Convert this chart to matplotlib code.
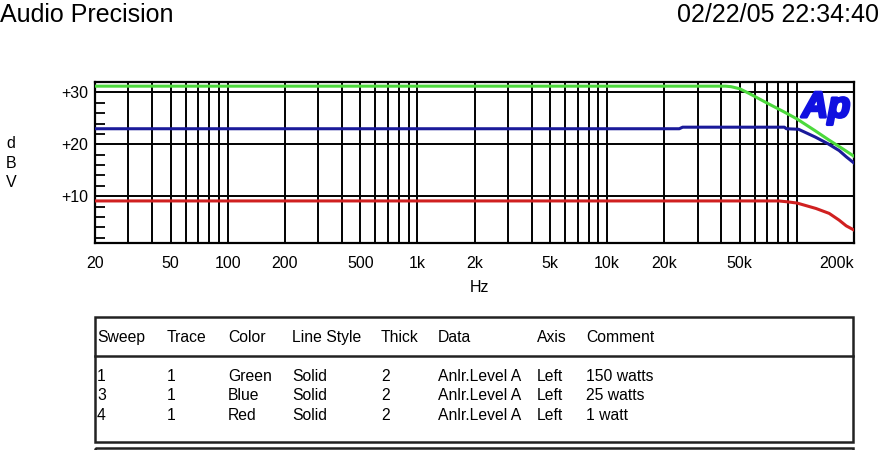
import matplotlib.pyplot as plt
import matplotlib.patheffects as pe
from matplotlib.ticker import FixedLocator, MultipleLocator, NullFormatter
from matplotlib.patches import Rectangle

plt.rcParams['font.family'] = ['Liberation Sans', 'DejaVu Sans']

# sweep data (Hz, dBV)
green_freq = [20, 42000, 45000, 50000, 56000, 63000, 70000, 84000, 100000, 125000, 148000, 175000, 200000]
green_level = [31.2, 31.2, 31.1, 30.7, 29.8, 28.8, 27.9, 26.4, 24.9, 22.6, 20.8, 19.1, 17.7]

blue_freq = [20, 24000, 25000, 86000, 88000, 102000, 125000, 146000, 167000, 182000, 200000]
blue_level = [23.0, 23.0, 23.3, 23.3, 23.0, 22.9, 21.4, 20.1, 18.8, 17.6, 16.4]

red_freq = [20, 80000, 88000, 100000, 126000, 148000, 167000, 182000, 200000]
red_level = [9.1, 9.1, 8.95, 8.7, 7.65, 6.7, 5.4, 4.3, 3.5]

xtick_vals = [20, 50, 100, 200, 500, 1000, 2000, 5000, 10000, 20000, 50000, 200000]
xtick_labels = ['20', '50', '100', '200', '500', '1k', '2k', '5k', '10k', '20k', '50k', '200k']
ytick_vals = [10, 20, 30]
ytick_labels = ['+10', '+20', '+30']

# legend table
tbl_header = ['Sweep', 'Trace', 'Color', 'Line Style', 'Thick', 'Data', 'Axis', 'Comment']
tbl_sweep = ['1', '3', '4']
tbl_trace = ['1', '1', '1']
tbl_color = ['Green', 'Blue', 'Red']
tbl_style = ['Solid', 'Solid', 'Solid']
tbl_thick = ['2', '2', '2']
tbl_data = ['Anlr.Level A', 'Anlr.Level A', 'Anlr.Level A']
tbl_axis = ['Left', 'Left', 'Left']
tbl_comment = ['150 watts', '25 watts', '1 watt']

W, H = 880, 450
fig = plt.figure(figsize=(W / 100, H / 100), dpi=100)
fig.patch.set_facecolor('white')

# main plot, placed in pixel terms
left, right, top, bottom = 95, 854, 82, 243
ax = fig.add_axes([left / W, 1 - bottom / H, (right - left) / W, (bottom - top) / H])
ax.set_xscale('log')
ax.set_xlim(20, 200000)
ax.set_ylim(1, 32)

# grid: every 1-9 step per decade, black
grid_x = []
for dec in [10, 100, 1000, 10000, 100000]:
    for m in range(1, 10):
        f = m * dec
        if 20 < f < 200000:
            grid_x.append(f)
for f in grid_x:
    ax.axvline(f, color='black', lw=1.4, zorder=1)
for v in ytick_vals:
    ax.axhline(v, color='black', lw=1.4, zorder=1)

ax.plot(green_freq, green_level, color='#4cd93c', lw=2.2, zorder=3)
ax.plot(blue_freq, blue_level, color='#1a1a9a', lw=2.2, zorder=3)
ax.plot(red_freq, red_level, color='#d02020', lw=2.2, zorder=3)

ax.xaxis.set_major_locator(FixedLocator(xtick_vals))
ax.xaxis.set_minor_locator(FixedLocator([]))
ax.set_xticklabels(xtick_labels)
ax.xaxis.set_minor_formatter(NullFormatter())
ax.tick_params(axis='x', which='both', length=0, pad=9, labelsize=11.5)
ax.get_xticklabels()[-1].set_ha('right')

ax.set_yticks(ytick_vals)
ax.set_yticklabels(ytick_labels)
ax.yaxis.set_minor_locator(MultipleLocator(2))
ax.tick_params(axis='y', which='major', length=0, pad=5, labelsize=11.5)
ax.tick_params(axis='y', which='minor', direction='in', length=7, width=1.3, color='black')

for s in ax.spines.values():
    s.set_linewidth(1.6)
    s.set_color('black')

ax.text(0.995, 0.95, 'Ap', transform=ax.transAxes, ha='right', va='top',
        fontsize=26, fontweight='bold', fontstyle='italic', color='#1010e0', zorder=4,
        path_effects=[pe.withStroke(linewidth=2.2, foreground='#1010e0')])

# overlay in pixel coordinates for texts and the table
ov = fig.add_axes([0, 0, 1, 1], zorder=-1)
ov.set_xlim(0, W)
ov.set_ylim(H, 0)
ov.axis('off')

ov.text(0, 15, 'Audio Precision', fontsize=18, ha='left', va='center')
ov.text(879, 15, '02/22/05 22:34:40', fontsize=18, ha='right', va='center')
ov.text(11, 163, 'd\nB\nV', fontsize=11.5, ha='center', va='center', linespacing=1.38)
ov.text(479, 288, 'Hz', fontsize=11.5, ha='center', va='center')

ov.add_patch(Rectangle((95, 317), 758, 125, fill=False, lw=1.8, ec='#222222'))
ov.plot([95, 853], [356, 356], color='#222222', lw=1.8)
ov.add_patch(Rectangle((95, 448), 758, 20, fill=False, lw=1.8, ec='#222222', clip_on=True))

col_x = [97, 167, 228, 292, 381, 438, 537, 586]
for cx, h in zip(col_x, tbl_header):
    ov.text(cx, 342, h, fontsize=11.3, ha='left', va='baseline')

columns = [tbl_sweep, tbl_trace, tbl_color, tbl_style, tbl_thick, tbl_data, tbl_axis, tbl_comment]
row_y = [381, 400, 420]
for cx, col in zip(col_x, columns):
    for ry, val in zip(row_y, col):
        ov.text(cx, ry, val, fontsize=11.3, ha='left', va='baseline')

fig.savefig('out.png', dpi=100)
plt.close('all')
